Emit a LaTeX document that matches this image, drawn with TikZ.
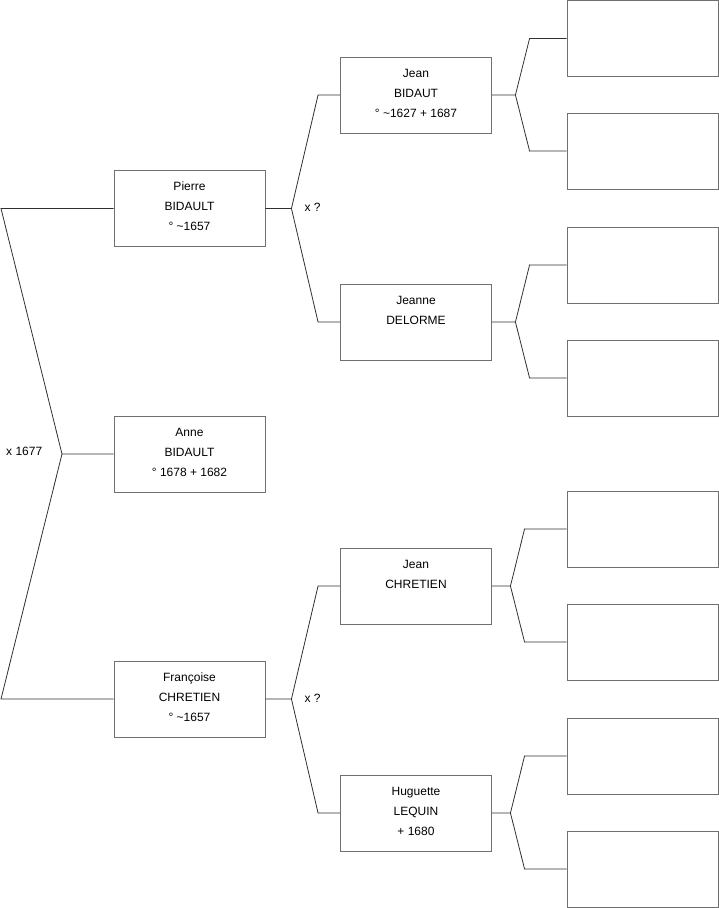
\documentclass[tikz,border=0pt]{standalone}
\usepackage{fontspec}
\setmainfont{Liberation Sans}
\usetikzlibrary{calc}
\definecolor{boxline}{HTML}{707070}
\definecolor{linkgray}{HTML}{303030}

\begin{document}
\begin{tikzpicture}[x=1pt, y=-1pt,
  person/.style={draw=boxline, fill=white, line width=0.9pt, minimum width=151pt, minimum height=76pt, inner sep=0pt, align=center, text height=60pt, text depth=16pt, font=\fontsize{12}{20}\selectfont},
  twolines/.style={text height=40pt, text depth=36pt},
  link/.style={draw=linkgray, line width=0.8pt},
  union/.style={anchor=west, inner sep=0pt, font=\fontsize{12}{14}\selectfont}
]
  \useasboundingbox (0,0) rectangle (719,908);

  % first and second generation
  \node[person] (pierre) at (189.5,208.5) {Pierre\\BIDAULT\\° \textasciitilde1657};
  \node[person] (anne) at (189.5,454) {Anne\\BIDAULT\\° 1678 + 1682};
  \node[person] (francoise) at (189.5,699) {Françoise\\CHRETIEN\\° \textasciitilde1657};

  % grandparents
  \node[person] (jeanb) at (416,95) {Jean\\BIDAUT\\° \textasciitilde1627 + 1687};
  \node[person, twolines] (jeanne) at (416,322) {Jeanne\\DELORME};
  \node[person, twolines] (jeanc) at (416,586) {Jean\\CHRETIEN};
  \node[person] (huguette) at (416,813) {Huguette\\LEQUIN\\+ 1680};

  % unknown ancestors
  \foreach \y [count=\i] in {38.5,151,265,378,529,642,756,869}
    \node[person] (e\i) at (642.5,\y) {};

  % parents of anne
  \coordinate (ptop) at (1,208.5);
  \coordinate (pmid) at (62,454);
  \coordinate (pbot) at (1,699);
  \draw[link] (pierre.west) -- (ptop) -- (pmid) -- (anne.west);
  \draw[link] (pmid) -- (pbot) -- (francoise.west);
  \node[union] (m0) at (6,451) {x 1677};

  % parents of pierre and francoise
  \foreach \c/\a/\b/\n in {pierre/jeanb/jeanne/m1, francoise/jeanc/huguette/m2} {
    \coordinate (j) at ($(\c.east)+(26,0)$);
    \draw[link] (\c.east) -- (j) -- ($(\a.west)+(-22,0)$) -- (\a.west);
    \draw[link] (j) -- ($(\b.west)+(-22,0)$) -- (\b.west);
    \node[union] (\n) at ($(j)+(13,-1)$) {x ?};
  }

  % parents of the grandparents
  \foreach \c/\a/\b/\dx/\bx in {jeanb/e1/e2/23.5/37, jeanne/e3/e4/23.5/37, jeanc/e5/e6/18.5/42, huguette/e7/e8/18.5/42} {
    \coordinate (k) at ($(\c.east)+(\dx,0)$);
    \draw[link] (\c.east) -- (k) -- ($(\a.west)+(-\bx,0)$) -- (\a.west);
    \draw[link] (k) -- ($(\b.west)+(-\bx,0)$) -- (\b.west);
  }
\end{tikzpicture}
\end{document}
